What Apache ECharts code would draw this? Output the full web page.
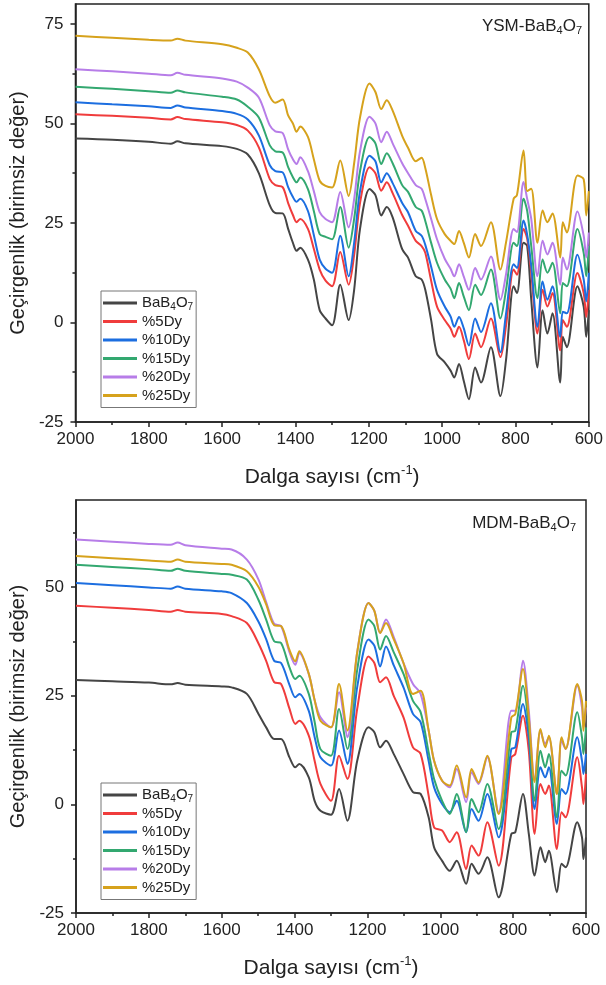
<!DOCTYPE html>
<html>
<head>
<meta charset="utf-8">
<script src="https://cdn.jsdelivr.net/npm/echarts@6/dist/echarts.min.js"></script>
<style>
  html, body { margin: 0; padding: 0; background: #fff; }
  #chart { width: 606px; height: 985px; }
</style>
</head>
<body>
<div id="chart"></div>
<script>
const names = ['BaB4O7', '%5Dy', '%10Dy', '%15Dy', '%20Dy', '%25Dy']
const colors = ['#454545', '#f03c3c', '#1c6ee0', '#33a870', '#b77de8', '#d6a21c']
const xTicks = [600, 800, 1000, 1200, 1400, 1600, 1800, 2000]
const xMinorTicks = [700, 900, 1100, 1300, 1500, 1700, 1900]
const yTicks = [-25, 0, 25, 50, 75]
const yMinorTicks = [-12.5, 12.5, 37.5, 62.5]

// YSM panel (top)
const topWave = [2000, 1900, 1800, 1740, 1722, 1700, 1600, 1560, 1530, 1500,
  1470, 1455, 1435, 1420, 1407, 1397, 1387, 1366, 1350, 1334,
  1318, 1300, 1278, 1255, 1240, 1224, 1198, 1182, 1166, 1151,
  1135, 1109, 1093, 1072, 1056, 1046, 1030, 1014, 993, 977,
  967, 954, 941, 927, 910, 894, 867, 841, 826, 805,
  796, 778, 768, 757, 740, 726, 713, 699, 678, 671,
  660, 631, 614, 607, 600]
const topBa = [46.2, 45.9, 45.4, 44.9, 45.5, 45.0, 44.3, 43.6, 42.2, 37.5,
  29.4, 27.5, 27.4, 23.5, 20.0, 18.0, 18.8, 15.8, 10.8, 3.1,
  1.0, -0.7, 9.5, 0.6, 8.2, 23.5, 33.5, 32.0, 26.9, 29.0,
  26.4, 18.4, 16.3, 11.6, 10.8, 8.2, 0.6, -7.9, -10.0, -12.1,
  -13.8, -10.4, -14.7, -19.3, -11.3, -15.1, -6.2, -18.5, -9.6, 9.1,
  7.4, 20.0, 19.2, 5.7, -11.3, 3.1, -2.8, 2.3, -15.1, -3.6,
  -6.2, 9.1, 4.0, -3.6, 3.1]
const top5 = [52.3, 51.9, 51.4, 51.0, 51.6, 51.1, 50.3, 49.6, 48.2, 44.0,
  36.0, 34.5, 34.0, 30.0, 27.0, 25.2, 26.0, 23.5, 18.5, 13.3,
  10.5, 9.1, 17.7, 9.5, 17.0, 30.0, 39.0, 37.5, 33.1, 35.2,
  32.5, 27.0, 24.3, 20.5, 19.2, 17.5, 10.5, 4.0, 0.6, -1.5,
  -3.6, -1.1, -4.5, -9.2, -2.8, -6.2, 1.0, -8.7, -1.0, 13.3,
  12.0, 23.5, 21.0, 12.4, -2.8, 8.2, 4.0, 7.4, -7.0, 0.6,
  -1.1, 12.4, 7.4, 1.4, 8.2]
const top10 = [55.3, 54.8, 54.3, 53.9, 54.5, 54.0, 53.1, 52.4, 51.0, 47.0,
  39.5, 38.0, 37.7, 34.0, 31.5, 30.3, 31.1, 28.0, 22.0, 15.8,
  13.5, 12.5, 21.8, 11.6, 20.0, 33.0, 41.9, 40.5, 35.2, 37.5,
  35.0, 30.0, 27.7, 23.0, 21.8, 19.5, 14.0, 8.2, 4.0, 1.5,
  -1.1, 1.4, -1.5, -5.8, 1.0, -2.4, 4.8, -7.5, 2.0, 14.6,
  13.7, 25.6, 22.0, 14.2, -1.1, 10.3, 5.7, 9.1, -3.6, 2.7,
  2.3, 17.0, 10.8, 5.3, 12.5]
const top15 = [59.2, 58.7, 58.1, 57.7, 58.3, 57.8, 56.7, 56.0, 54.2, 51.5,
  44.5, 43.0, 42.7, 39.0, 36.5, 35.2, 36.4, 33.5, 28.0, 22.2,
  21.5, 20.9, 29.0, 18.8, 26.0, 38.0, 46.6, 45.0, 39.8, 42.5,
  40.0, 34.5, 32.8, 29.0, 28.1, 25.5, 20.0, 15.0, 10.8, 8.5,
  6.1, 9.9, 6.5, 3.1, 9.5, 6.9, 13.3, 1.0, 8.0, 20.0,
  19.2, 31.1, 28.0, 19.2, 6.1, 15.8, 12.5, 15.0, 2.3, 9.9,
  9.1, 23.5, 17.5, 11.6, 19.2]
const top20 = [63.6, 63.1, 62.5, 62.1, 62.7, 62.2, 61.3, 60.5, 59.0, 56.5,
  49.5, 48.0, 47.6, 43.5, 41.0, 39.8, 41.5, 38.0, 33.0, 27.7,
  26.0, 25.2, 32.8, 23.9, 31.0, 43.0, 51.7, 50.0, 45.3, 47.9,
  45.0, 40.0, 37.5, 34.5, 33.6, 31.0, 26.0, 20.9, 16.0, 13.5,
  11.6, 14.6, 11.5, 8.2, 13.7, 10.8, 16.6, 5.7, 12.0, 23.5,
  22.7, 35.3, 31.0, 26.0, 11.6, 20.5, 17.1, 20.0, 9.5, 16.3,
  13.3, 27.9, 21.8, 16.3, 22.6]
const top25 = [72.0, 71.5, 71.0, 70.8, 71.3, 70.8, 69.9, 69.0, 67.8, 63.6,
  56.8, 55.2, 56.0, 52.0, 50.0, 47.9, 49.2, 46.6, 41.0, 35.6,
  34.3, 33.9, 40.7, 31.8, 40.0, 51.5, 60.0, 57.9, 53.6, 55.8,
  53.2, 46.9, 43.9, 40.5, 41.4, 38.8, 32.0, 26.0, 22.2, 20.5,
  19.7, 23.0, 20.0, 16.3, 22.2, 19.2, 25.2, 13.3, 20.0, 31.1,
  32.0, 43.2, 33.0, 33.6, 20.0, 28.1, 25.2, 27.4, 16.3, 25.2,
  22.6, 36.9, 36.0, 26.9, 33.0]

// MDM panel (bottom)
const botWave = [2000, 1900, 1800, 1740, 1721, 1700, 1600, 1573, 1531, 1499,
  1478, 1456, 1437, 1414, 1398, 1387, 1361, 1345, 1329, 1300,
  1278, 1255, 1228, 1197, 1181, 1165, 1149, 1128, 1101, 1075,
  1054, 1032, 1017, 995, 974, 955, 929, 914, 895, 871,
  840, 805, 794, 773, 757, 741, 725, 712, 702, 680,
  667, 656, 624, 611, 607, 600]
const botBa = [28.6, 28.3, 28.0, 27.6, 27.9, 27.5, 27.1, 26.9, 25.4, 20.8,
  17.7, 15.0, 15.0, 10.8, 8.5, 9.3, 6.2, 0.8, -1.5, -2.4,
  3.5, -3.8, 10.0, 17.7, 16.6, 13.1, 14.6, 11.6, 7.0, 2.8,
  2.4, -3.0, -9.9, -13.0, -15.3, -13.0, -18.3, -13.7, -16.0, -12.2,
  -21.4, -6.8, -6.4, 2.4, -6.8, -16.4, -9.9, -13.3, -10.7, -20.2,
  -13.7, -14.5, -4.1, -7.6, -12.6, -7.6]
const bot5 = [45.7, 45.2, 44.7, 44.3, 44.7, 44.3, 43.8, 43.3, 41.7, 37.0,
  33.0, 28.1, 27.7, 22.0, 18.5, 19.2, 15.8, 10.0, 4.7, 0.8,
  11.2, 5.8, 22.0, 34.0, 32.5, 28.1, 29.2, 25.0, 20.0, 13.1,
  11.6, 2.0, -5.3, -6.0, -8.7, -6.4, -14.9, -9.5, -11.8, -4.1,
  -14.1, 10.8, 11.6, 20.4, 12.3, -6.8, 4.7, 2.4, 4.3, -10.3,
  -1.8, -3.0, 10.8, 3.9, 0.1, 7.0]
const bot10 = [50.9, 50.4, 49.9, 49.6, 50.1, 49.6, 49.0, 48.6, 46.3, 42.0,
  38.0, 33.0, 32.5, 27.5, 24.6, 25.4, 21.5, 15.5, 10.8, 8.9,
  17.0, 9.3, 27.0, 37.9, 36.5, 31.7, 36.3, 32.0, 26.9, 20.8,
  18.9, 10.0, 3.9, 0.1, -1.8, 0.8, -6.4, -1.1, -3.8, 2.4,
  -7.6, 12.7, 13.1, 23.1, 15.4, -1.1, 8.5, 6.2, 8.5, -4.5,
  3.5, 2.4, 15.4, 10.0, 7.0, 11.6]
const bot15 = [55.1, 54.6, 54.1, 53.7, 54.2, 53.7, 53.0, 52.8, 51.7, 47.0,
  42.5, 37.5, 37.1, 31.5, 28.8, 29.6, 25.4, 19.0, 12.7, 11.2,
  21.9, 12.7, 31.0, 42.5, 41.0, 35.6, 38.7, 35.0, 30.0, 23.8,
  21.2, 12.0, 5.8, 0.8, -2.2, 2.4, -6.4, 1.2, -1.8, 4.7,
  -5.7, 16.6, 16.9, 27.3, 17.7, 0.8, 12.3, 8.5, 11.6, -3.0,
  7.7, 6.6, 21.2, 15.4, 11.6, 17.7]
const bot20 = [60.9, 60.4, 59.9, 59.7, 60.2, 59.6, 58.8, 58.6, 56.3, 51.7,
  46.5, 41.5, 41.0, 35.0, 32.1, 34.8, 30.0, 24.0, 20.0, 17.7,
  25.8, 15.4, 35.0, 46.3, 44.5, 39.4, 42.5, 38.5, 32.5, 27.7,
  25.4, 17.0, 10.0, 5.4, 3.9, 8.1, 0.5, 7.4, 4.7, 10.8,
  -1.8, 21.5, 21.5, 33.0, 21.5, 5.4, 16.9, 13.9, 15.4, 2.4,
  14.6, 12.7, 27.3, 22.3, 17.7, 22.3]
const bot25 = [57.1, 56.6, 56.1, 55.8, 56.3, 55.8, 55.3, 55.1, 53.6, 50.0,
  46.0, 41.2, 41.0, 35.5, 32.9, 35.2, 30.0, 24.0, 19.2, 17.7,
  27.7, 17.0, 35.0, 46.3, 44.5, 39.4, 41.7, 38.0, 32.5, 25.4,
  26.1, 17.0, 10.0, 5.4, 4.3, 8.9, 1.6, 8.1, 5.0, 11.2,
  -2.2, 20.0, 20.8, 31.1, 20.0, 5.1, 17.3, 13.1, 15.8, 2.4,
  15.4, 12.7, 27.7, 23.8, 16.9, 23.8]

const topSets = [topBa, top5, top10, top15, top20, top25]
const botSets = [botBa, bot5, bot10, bot15, bot20, bot25]

const font = 'Liberation Sans, Arial, sans-serif'
const ink = '#222'

const chart = echarts.init(document.getElementById('chart'), null, { renderer: 'canvas' })

function pairs(xs, ys) {
  return xs.map((x, i) => [x, ys[i]])
}

function makeX(gridIndex) {
  return {
    type: 'value',
    gridIndex: gridIndex,
    position: 'bottom',
    min: 600,
    max: 2000,
    interval: 200,
    inverse: true,
    name: 'Dalga sayısı (cm{sup|-1})',
    nameLocation: 'middle',
    nameGap: 42,
    nameTextStyle: {
      fontFamily: font, fontSize: 21, color: ink, lineHeight: 26,
      rich: { sup: { fontFamily: font, fontSize: 13, color: ink, lineHeight: 13, verticalAlign: 'top' } }
    },
    axisLine: { show: true, onZero: false, lineStyle: { color: ink, width: 1.5 } },
    axisTick: { show: true, length: 5, customValues: xTicks, lineStyle: { color: ink, width: 1.5 } },
    axisLabel: {
      fontFamily: font, fontSize: 17, color: ink, margin: 9, customValues: xTicks,
      formatter: v => String(v)
    },
    splitLine: { show: false }
  }
}

function makeXMinor(gridIndex) {
  return {
    type: 'value',
    gridIndex: gridIndex,
    position: 'bottom',
    min: 600,
    max: 2000,
    interval: 200,
    inverse: true,
    axisLine: { show: false, onZero: false },
    axisTick: { show: true, length: 3, customValues: xMinorTicks, lineStyle: { color: ink, width: 1.5 } },
    axisLabel: { show: false },
    splitLine: { show: false }
  }
}

function makeY(gridIndex, max) {
  return {
    type: 'value',
    gridIndex: gridIndex,
    position: 'left',
    min: -25,
    max: max,
    name: 'Geçirgenlik (birimsiz değer)',
    nameLocation: 'middle',
    nameGap: 46,
    nameTextStyle: { fontFamily: font, fontSize: 20, color: ink },
    axisLine: { show: true, onZero: false, lineStyle: { color: ink, width: 1.5 } },
    axisTick: { show: true, length: 5, customValues: yTicks, lineStyle: { color: ink, width: 1.5 } },
    axisLabel: { fontFamily: font, fontSize: 17, color: ink, margin: 12, customValues: yTicks },
    splitLine: { show: false }
  }
}

function makeYMinor(gridIndex, max) {
  return {
    type: 'value',
    gridIndex: gridIndex,
    position: 'left',
    min: -25,
    max: max,
    axisLine: { show: false, onZero: false },
    axisTick: { show: true, length: 3, customValues: yMinorTicks, lineStyle: { color: ink, width: 1.5 } },
    axisLabel: { show: false },
    splitLine: { show: false }
  }
}

function makeLegend(top) {
  return {
    data: names,
    orient: 'vertical',
    left: 101,
    top: top,
    padding: [3, 3, 3, 2],
    itemGap: 0.5,
    itemWidth: 34,
    itemHeight: 3,
    icon: 'rect',
    borderColor: '#777',
    borderWidth: 1,
    selectedMode: false,
    formatter: function (name) {
      return name === 'BaB4O7' ? 'BaB{sub|4}O{sub|7}' : name
    },
    textStyle: {
      fontFamily: font, fontSize: 15, color: ink, lineHeight: 18,
      rich: { sub: { fontFamily: font, fontSize: 10, color: ink, lineHeight: 10, verticalAlign: 'bottom' } }
    }
  }
}

function makeTag(text, top, right) {
  return {
    text: text,
    top: top,
    right: right,
    padding: 0,
    textStyle: {
      fontFamily: font, fontSize: 17, fontWeight: 'normal', color: ink, lineHeight: 20,
      rich: { sub: { fontFamily: font, fontSize: 11, color: ink, lineHeight: 11, verticalAlign: 'bottom' } }
    }
  }
}

const series = []
names.forEach((name, i) => {
  series.push({
    name: name,
    type: 'line',
    xAxisIndex: 0,
    yAxisIndex: 0,
    data: pairs(topWave, topSets[i]),
    smooth: 0.3,
    showSymbol: false,
    lineStyle: { color: colors[i], width: 2 },
    itemStyle: { color: colors[i] }
  })
})
names.forEach((name, i) => {
  series.push({
    name: name,
    type: 'line',
    xAxisIndex: 2,
    yAxisIndex: 2,
    data: pairs(botWave, botSets[i]),
    smooth: 0.3,
    showSymbol: false,
    lineStyle: { color: colors[i], width: 2 },
    itemStyle: { color: colors[i] }
  })
})

const option = {
  animation: false,
  backgroundColor: '#fff',
  title: [
    makeTag('YSM-BaB{sub|4}O{sub|7}', 16, 24),
    makeTag('MDM-BaB{sub|4}O{sub|7}', 513, 30)
  ],
  legend: [makeLegend(291), makeLegend(783)],
  grid: [
    { left: 75, right: 15, top: 4, height: 418, show: true, borderColor: ink, borderWidth: 1.5 },
    { left: 76, right: 20, top: 500, height: 413, show: true, borderColor: ink, borderWidth: 1.5 }
  ],
  xAxis: [makeX(0), makeXMinor(0), makeX(1), makeXMinor(1)],
  yAxis: [makeY(0, 80), makeYMinor(0, 80), makeY(1, 70), makeYMinor(1, 70)],
  series: series
}

chart.setOption(option)
</script>
</body>
</html>
